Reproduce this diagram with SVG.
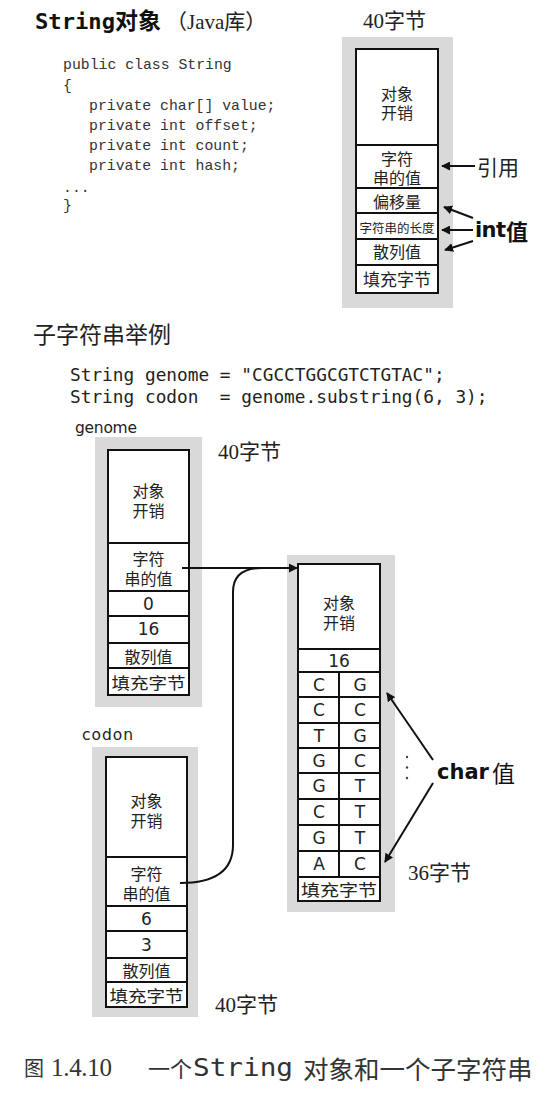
<svg xmlns="http://www.w3.org/2000/svg" width="558" height="1096" viewBox="0 0 558 1096">
<style>
.gray{fill:#d9d9d9}
.cell{fill:#fff;stroke:#111;stroke-width:2}
.div{stroke:#111;stroke-width:2;fill:none}
.lbl{font-family:"Noto Sans CJK SC",sans-serif;font-size:16px;fill:#222;text-anchor:middle;dominant-baseline:central}
.num{font-family:"DejaVu Sans",sans-serif;font-size:17px;fill:#222;text-anchor:middle;dominant-baseline:central}
.bytes{font-family:"Liberation Serif","Noto Sans CJK SC",serif;font-size:21px;fill:#222;dominant-baseline:central}
.code{font-family:"Liberation Mono",monospace;font-size:14.8px;fill:#333}
.code2{font-family:"DejaVu Sans Mono",monospace;font-size:17.8px;fill:#222}
.conn{stroke:#111;stroke-width:2;fill:none}
.bold{font-family:"DejaVu Sans","Noto Sans CJK SC",sans-serif;font-weight:bold;fill:#111;dominant-baseline:central}
.cap{fill:#333;dominant-baseline:central}
</style>
<defs>
<marker id="ah" viewBox="0 0 10 10" refX="9" refY="5" markerWidth="4.5" markerHeight="4.5" orient="auto" markerUnits="strokeWidth">
<path d="M0,0 L10,5 L0,10 z" fill="#111"/>
</marker>
</defs>
<rect width="558" height="1096" fill="#fff"/>

<g id="title">
<text x="35" y="29" font-family="DejaVu Sans Mono,monospace" font-weight="bold" font-size="22" fill="#111" textLength="80" lengthAdjust="spacingAndGlyphs">String</text>
<text x="115" y="29" font-family="Noto Sans CJK SC,sans-serif" font-weight="bold" font-size="23" fill="#111">对象</text>
<text x="166" y="29" font-family="Liberation Serif,Noto Sans CJK SC,serif" font-size="21" fill="#222">（Java库）</text>
</g>

<g id="code-class">
<text class="code" x="63" y="69">public class String</text>
<text class="code" x="63" y="90">{</text>
<text class="code" x="89" y="110">private char[] value;</text>
<text class="code" x="89" y="130">private int offset;</text>
<text class="code" x="89" y="150">private int count;</text>
<text class="code" x="89" y="170">private int hash;</text>
<text class="code" x="63" y="192">...</text>
<text class="code" x="63" y="210">}</text>
</g>

<g id="string-object">
<text class="bytes" x="363" y="21">40字节</text>
<rect class="gray" x="342" y="37" width="111" height="271"/>
<rect class="cell" x="356" y="49" width="82" height="244"/>
<path class="div" d="M356,145 H438 M356,188 H438 M356,213 H438 M356,239 H438 M356,265 H438"/>
<text class="lbl" x="397" y="93">对象</text>
<text class="lbl" x="397" y="112">开销</text>
<text class="lbl" x="397" y="158">字符</text>
<text class="lbl" x="397" y="177">串的值</text>
<text class="lbl" x="397" y="201">偏移量</text>
<text class="lbl" x="397" y="227" style="font-size:12.5px">字符串的长度</text>
<text class="lbl" x="397" y="251">散列值</text>
<text class="lbl" x="397" y="278" style="font-size:17px">填充字节</text>
</g>

<g id="ref-label">
<text x="477" y="166" font-family="Noto Sans CJK SC,sans-serif" font-size="21" fill="#222" dominant-baseline="central">引用</text>
</g>
<g id="int-label">
<text class="bold" x="475" y="230" font-size="21" textLength="31">int</text>
<text x="506" y="230" font-family="Noto Sans CJK SC,sans-serif" font-weight="bold" font-size="22" fill="#111" dominant-baseline="central">值</text>
</g>

<g id="substring-title">
<text x="33" y="333" font-family="Noto Sans CJK SC,sans-serif" font-size="23" fill="#222" dominant-baseline="central">子字符串举例</text>
</g>
<g id="code-substring">
<text class="code2" x="70" y="381">String genome = "CGCCTGGCGTCTGTAC";</text>
<text class="code2" x="70" y="403" xml:space="preserve">String codon  = genome.substring(6, 3);</text>
</g>

<g id="genome">
<text x="75" y="433" font-family="DejaVu Sans,sans-serif" font-size="15.5" fill="#222" textLength="62">genome</text>
<text class="bytes" x="218" y="452">40字节</text>
<rect class="gray" x="95" y="437" width="107" height="270"/>
<rect class="cell" x="108" y="450" width="81" height="245"/>
<path class="div" d="M108,543 H189 M108,591 H189 M108,616 H189 M108,643 H189 M108,668 H189"/>
<text class="lbl" x="148.5" y="490">对象</text>
<text class="lbl" x="148.5" y="510">开销</text>
<text class="lbl" x="148.5" y="558">字符</text>
<text class="lbl" x="148.5" y="578">串的值</text>
<text class="num" x="148.5" y="604">0</text>
<text class="num" x="148.5" y="629">16</text>
<text class="lbl" x="148.5" y="656">散列值</text>
<text class="lbl" x="148.5" y="682" textLength="74" lengthAdjust="spacingAndGlyphs">填充字节</text>
</g>

<g id="char-array">
<rect class="gray" x="287" y="555" width="108" height="357"/>
<rect class="cell" x="298" y="564" width="82" height="337"/>
<path class="div" d="M298,649 H380 M298,672 H380 M298,697 H380 M298,723 H380 M298,748 H380 M298,773 H380 M298,799 H380 M298,825 H380 M298,851 H380 M298,877 H380 M339,672 V877"/>
<text class="lbl" x="339" y="602">对象</text>
<text class="lbl" x="339" y="622">开销</text>
<text class="num" x="339" y="661">16</text>
<g class="num">
<text x="319" y="685">C</text><text x="360" y="685">G</text>
<text x="319" y="710">C</text><text x="360" y="710">C</text>
<text x="319" y="736">T</text><text x="360" y="736">G</text>
<text x="319" y="761">G</text><text x="360" y="761">C</text>
<text x="319" y="786">G</text><text x="360" y="786">T</text>
<text x="319" y="812">C</text><text x="360" y="812">T</text>
<text x="319" y="838">G</text><text x="360" y="838">T</text>
<text x="319" y="864">A</text><text x="360" y="864">C</text>
</g>
<text class="lbl" x="339" y="889" textLength="76" lengthAdjust="spacingAndGlyphs">填充字节</text>
<text class="bytes" x="408" y="873">36字节</text>
<circle cx="407" cy="757" r="1.2" fill="#444"/>
<circle cx="407" cy="767.5" r="1.2" fill="#444"/>
<circle cx="407" cy="778" r="1.2" fill="#444"/>
</g>

<g id="char-label">
<text class="bold" x="437" y="772" font-size="21">char</text>
<text x="492" y="772" font-family="Noto Sans CJK SC,sans-serif" font-size="23" fill="#111" dominant-baseline="central">值</text>
</g>

<g id="codon">
<text x="82" y="740" font-family="DejaVu Sans,sans-serif" font-size="15.5" fill="#222" textLength="51">codon</text>
<rect class="gray" x="92" y="747" width="106" height="270"/>
<rect class="cell" x="106" y="757" width="81" height="250"/>
<path class="div" d="M106,857 H187 M106,906 H187 M106,931 H187 M106,958 H187 M106,982 H187"/>
<text class="lbl" x="146.5" y="800">对象</text>
<text class="lbl" x="146.5" y="820">开销</text>
<text class="lbl" x="146.5" y="873">字符</text>
<text class="lbl" x="146.5" y="893">串的值</text>
<text class="num" x="146.5" y="919">6</text>
<text class="num" x="146.5" y="945">3</text>
<text class="lbl" x="146.5" y="970">散列值</text>
<text class="lbl" x="146.5" y="995" textLength="74" lengthAdjust="spacingAndGlyphs">填充字节</text>
<text class="bytes" x="215" y="1005">40字节</text>
</g>

<g id="caption">
<text class="cap" x="24" y="1067" font-family="Noto Sans CJK SC,sans-serif" font-size="20">图</text>
<text class="cap" x="51" y="1067" font-family="Liberation Serif,serif" font-size="25" textLength="61">1.4.10</text>
<text class="cap" x="148" y="1067" font-family="Noto Sans CJK SC,sans-serif" font-size="22">一个</text>
<text class="cap" x="193" y="1067" font-family="DejaVu Sans Mono,monospace" font-size="25" textLength="100" lengthAdjust="spacingAndGlyphs">String</text>
<text class="cap" x="303" y="1067" font-family="Noto Sans CJK SC,sans-serif" font-size="25.5">对象和一个子字符串</text>
</g>

<g id="connectors">
<line class="conn" x1="475" y1="166" x2="442" y2="166" marker-end="url(#ah)"/>
<line class="conn" x1="473" y1="218" x2="444" y2="207" marker-end="url(#ah)"/>
<line class="conn" x1="473" y1="230" x2="442" y2="230" marker-end="url(#ah)"/>
<line class="conn" x1="473" y1="241" x2="445" y2="250" marker-end="url(#ah)"/>
<line class="conn" x1="433" y1="760" x2="387" y2="693" marker-end="url(#ah)"/>
<line class="conn" x1="433" y1="783" x2="385" y2="862" marker-end="url(#ah)"/>
<path class="conn" d="M182,568 H297" marker-end="url(#ah)"/>
<path class="conn" d="M180,883 C215,883 233,870 233,845 V592 Q233,568 262,568"/>
</g>
</svg>
